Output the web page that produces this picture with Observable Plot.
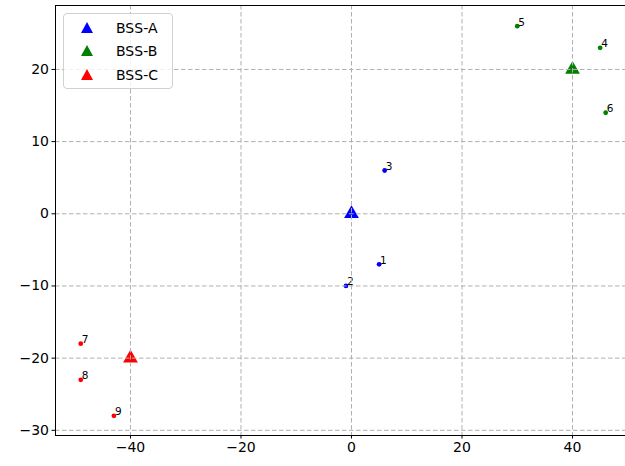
<!DOCTYPE html>
<html><head><meta charset="utf-8">
<script src="https://cdn.jsdelivr.net/npm/d3@7"></script>
<script src="https://cdn.jsdelivr.net/npm/@observablehq/plot@0.6"></script>
<style>
body{margin:0;background:#fff}
#wrap{position:relative;width:625px;height:466px}
.legend{position:absolute;left:63px;top:13px;width:110px;height:76px;border:1px solid #d0d0d0;border-radius:4px;background:rgba(255,255,255,0.8);font:14px "DejaVu Sans",sans-serif;box-sizing:border-box;color:#000}
.legend .row{position:absolute;left:0;height:20px;display:flex;align-items:center}
.legend svg{position:absolute;left:16px}
.legend span{position:absolute;left:52px;white-space:nowrap;line-height:20px}
</style></head><body><div id="wrap"></div>
<script>
const stations = ["BSS-A", "BSS-B", "BSS-C"];
const stationX = [0, 40, -40];
const stationY = [0, 20, -20];
const stationColors = ["blue", "green", "red"];

const userIds = [1, 2, 3, 4, 5, 6, 7, 8, 9];
const userX = [5, -1, 6, 45, 30, 46, -49, -49, -43];
const userY = [-7, -10, 6, 23, 26, 14, -18, -23, -28];
const userStation = ["BSS-A", "BSS-A", "BSS-A", "BSS-B", "BSS-B", "BSS-B", "BSS-C", "BSS-C", "BSS-C"];

const xTicks = [-40, -20, 0, 20, 40];
const yTicks = [-30, -20, -10, 0, 10, 20];
const xDomain = [-53.57, 49.59];
const yDomain = [-30.72, 28.86];

const bss = stations.map((s, i) => ({name: s, x: stationX[i], y: stationY[i]}));
const users = userIds.map((id, i) => ({id: String(id), x: userX[i], y: userY[i], s: userStation[i]}));

const plot = Plot.plot({
  width: 625,
  height: 466,
  marginLeft: 55,
  marginRight: 0,
  marginTop: 5,
  marginBottom: 31,
  style: {fontFamily: "DejaVu Sans, sans-serif", fontSize: "14px", background: "#fff", color: "#000"},
  x: {domain: xDomain, label: null},
  y: {domain: yDomain, label: null},
  color: {type: "ordinal", domain: stations, range: stationColors},
  marks: [
    Plot.dot(bss, {x: "x", y: "y", fill: "name", symbol: "triangle", r: 5.5, stroke: "none"}),
    Plot.dot(users, {x: "x", y: "y", fill: "s", r: 2.4, stroke: "none"}),
    Plot.text(users, {x: "x", y: "y", text: "id", textAnchor: "start", dx: 1, dy: -4, fontSize: 10.5, fill: "#000"}),
    Plot.gridX(xTicks, {stroke: "#b0b0b0", strokeOpacity: 1, strokeDasharray: "4.5,2.5", strokeWidth: 1}),
    Plot.gridY(yTicks, {stroke: "#b0b0b0", strokeOpacity: 1, strokeDasharray: "4.5,2.5", strokeWidth: 1}),
    Plot.axisX(xTicks, {tickSize: 3.5, tickPadding: 3, fontSize: 14, stroke: "#000"}),
    Plot.axisY(yTicks, {tickSize: 3.5, tickPadding: 3, fontSize: 14, stroke: "#000"}),
    Plot.ruleY([yDomain[0], yDomain[1]], {stroke: "#000", strokeWidth: 1}),
    Plot.ruleX([xDomain[0]], {stroke: "#000", strokeWidth: 1})
  ]
});

const wrap = document.getElementById("wrap");
wrap.appendChild(plot);

const legend = document.createElement("div");
legend.className = "legend";
const rowTops = [4, 27, 51];
stations.forEach((s, i) => {
  const row = document.createElement("div");
  row.className = "row";
  row.style.top = rowTops[i] + "px";
  row.innerHTML = `<svg width="14" height="20" viewBox="-7 -10 14 20"><path d="M0,-6L6,5L-6,5Z" fill="${stationColors[i]}"/></svg><span>${s}</span>`;
  legend.appendChild(row);
});
wrap.appendChild(legend);
</script>
</body></html>
